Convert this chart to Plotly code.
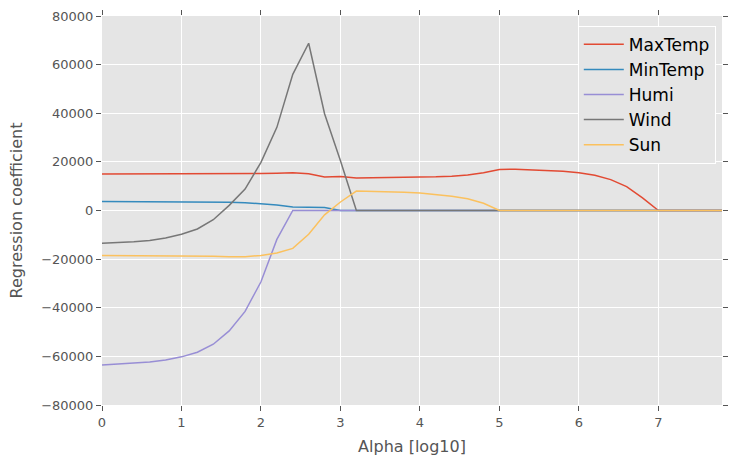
import plotly.graph_objects as go

alpha = [round(0.2 * i, 1) for i in range(40)]  # 0.0 .. 7.8

max_temp = [15000, 15000, 15000, 15000, 15000, 15000, 15050, 15100, 15150, 15200,
            15250, 15350, 15500, 15100, 13800, 14000, 13400, 13450, 13500, 13600,
            13700, 13850, 14100, 14600, 15500, 16900, 17000, 16800, 16500, 16100,
            15500, 14500, 12700, 9800, 5200, 0, 0, 0, 0, 0]
min_temp = [3700, 3700, 3680, 3660, 3640, 3600, 3560, 3500, 3400, 3200,
            2900, 2300, 1400, 1200, 1200, 0, 0, 0, 0, 0,
            0, 0, 0, 0, 0, 0, 0, 0, 0, 0,
            0, 0, 0, 0, 0, 0, 0, 0, 0, 0]
humi = [-63500, -63200, -62800, -62300, -61500, -60200, -58300, -55000, -49500, -41500,
        -29300, -11900, 0, 0, 0, 0, 0, 0, 0, 0,
        0, 0, 0, 0, 0, 0, 0, 0, 0, 0,
        0, 0, 0, 0, 0, 0, 0, 0, 0, 0]
wind = [-13500, -13300, -12900, -12300, -11300, -9800, -7600, -3800, 2100, 8800,
        19800, 34200, 56000, 68800, 39800, 20500, 0, 0, 0, 0,
        0, 0, 0, 0, 0, 0, 0, 0, 0, 0,
        0, 0, 0, 0, 0, 0, 0, 0, 0, 0]
sun = [-18500, -18500, -18500, -18550, -18550, -18600, -18700, -18800, -19000, -19000,
       -18500, -17500, -15600, -9800, -1800, 3500, 8000, 7900, 7700, 7500,
       7200, 6700, 5900, 4800, 3000, 0, 0, 0, 0, 0,
       0, 0, 0, 0, 0, 0, 0, 0, 0, 0]

y_ticks = list(range(-80000, 80001, 20000))
y_ticktext = [("\u2212" + str(-v)) if v < 0 else str(v) for v in y_ticks]
x_ticks = list(range(8))

series = [("MaxTemp", max_temp, "#E24A33"),
          ("MinTemp", min_temp, "#348ABD"),
          ("Humi", humi, "#988ED5"),
          ("Wind", wind, "#777777"),
          ("Sun", sun, "#FBC15E")]

fig = go.Figure()
for name, vals, col in series:
    fig.add_trace(go.Scatter(x=alpha, y=vals, mode="lines", name=name,
                             line=dict(color=col, width=1.5)))

axis_common = dict(
    showgrid=True, gridcolor="white", gridwidth=1,
    zeroline=False, showline=False,
    ticks="outside", ticklen=5, tickcolor="#555555", tickwidth=1,
    mirror="ticks",
    tickfont=dict(family="DejaVu Sans", size=13, color="#555555"),
)

fig.update_layout(
    width=732, height=464,
    margin=dict(l=102, r=10, t=16, b=59),
    paper_bgcolor="white", plot_bgcolor="#E5E5E5",
    font=dict(family="DejaVu Sans", color="#555555"),
    xaxis=dict(range=[0, 7.8], tickmode="array", tickvals=x_ticks,
               ticktext=[str(v) for v in x_ticks],
               title=dict(text="Alpha [log10]", font=dict(size=16, color="#555555"), standoff=12),
               **axis_common),
    yaxis=dict(range=[-80000, 80000], tickmode="array",
               tickvals=y_ticks, ticktext=y_ticktext,
               title=dict(text="Regression coefficient", font=dict(size=16, color="#555555"), standoff=14),
               **axis_common),
    legend=dict(x=0.99, y=0.975, xanchor="right", yanchor="top",
                bgcolor="#E5E5E5", bordercolor="white", borderwidth=1,
                font=dict(family="DejaVu Sans", size=17, color="black"),
                itemwidth=40, tracegroupgap=0),
    showlegend=True,
)

fig.write_html("out.html")
